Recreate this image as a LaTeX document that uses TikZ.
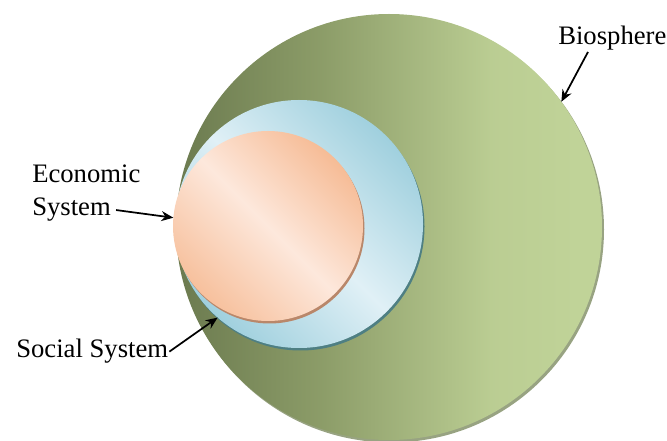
\documentclass[tikz,border=0pt]{standalone}
\usepackage{fontspec}
\setmainfont{Liberation Serif}
\usetikzlibrary{arrows.meta,calc}

\definecolor{bioDark}{HTML}{6B7A4F}
\definecolor{bioMid}{HTML}{9AAB73}
\definecolor{bioLight}{HTML}{C0D398}
\definecolor{bioRim}{HTML}{98A382}
\definecolor{socDark}{HTML}{A0D0DE}
\definecolor{socLight}{HTML}{E0F0F6}
\definecolor{socRim}{HTML}{4E7F83}
\definecolor{ecoDark}{HTML}{F6BC96}
\definecolor{ecoLight}{HTML}{FDE8DC}
\definecolor{ecoRim}{HTML}{B9876A}

\pgfdeclarehorizontalshading{bioshade}{100bp}{color(0bp)=(bioDark); color(25bp)=(bioDark); color(42bp)=(bioMid!70!bioDark); color(62bp)=(bioLight!85!bioMid); color(72bp)=(bioLight); color(100bp)=(bioLight)}

\tikzset{
  ring/.style={circle, inner sep=0pt, outer sep=0pt},
  lbl/.style={inner sep=0.75pt, font=\fontsize{20}{24}\selectfont},
  pointer/.style={line width=1.3pt, -{Stealth[length=9pt,width=7.5pt]}}
}

\begin{document}
\begin{tikzpicture}[x=0.75pt,y=0.75pt,yscale=-1,xscale=1]
\useasboundingbox (0,0) rectangle (667,441);

\coordinate (cbio) at (389,227);
\coordinate (csoc) at (299,224);
\coordinate (ceco) at (268,226);

%Shape: Circle (biosphere)
\fill [bioRim] ([shift={(2,2.5)}]cbio) circle (213);
\node [ring, minimum size=319.5pt, shading=bioshade] (bio) at (cbio) {};
%Shape: Circle (social system)
\fill [socRim] ([shift={(1.5,2.5)}]csoc) circle (124);
\node [ring, minimum size=186pt, top color=socDark, bottom color=socDark, middle color=socLight, shading angle=-45] (soc) at (csoc) {};
%Shape: Circle (economic system)
\fill [ecoRim] ([shift={(1.5,2.5)}]ceco) circle (95);
\node [ring, minimum size=142.5pt, top color=ecoDark, bottom color=ecoDark!90!ecoLight, middle color=ecoLight, shading angle=-45] (eco) at (ceco) {};

% Text Node
\node [lbl, anchor=base west] (biolbl) at (557,45) {Biosphere};
% Text Node
\node [lbl, anchor=base west] (ecolbl) at (31,183) {Economic};
% Text Node
\node [lbl, anchor=base west] (syslbl) at (31,216) {System};
% Text Node
\node [lbl, anchor=base west] (soclbl) at (15,358) {Social System};

%Straight Lines
\draw [pointer] ($(biolbl.south west)+(31,0)$) -- (bio.36);
\draw [pointer] ($(syslbl.east)+(4,0)$) -- (eco.175);
\draw [pointer] (soclbl.east) -- (soc.229);

\end{tikzpicture}
\end{document}
